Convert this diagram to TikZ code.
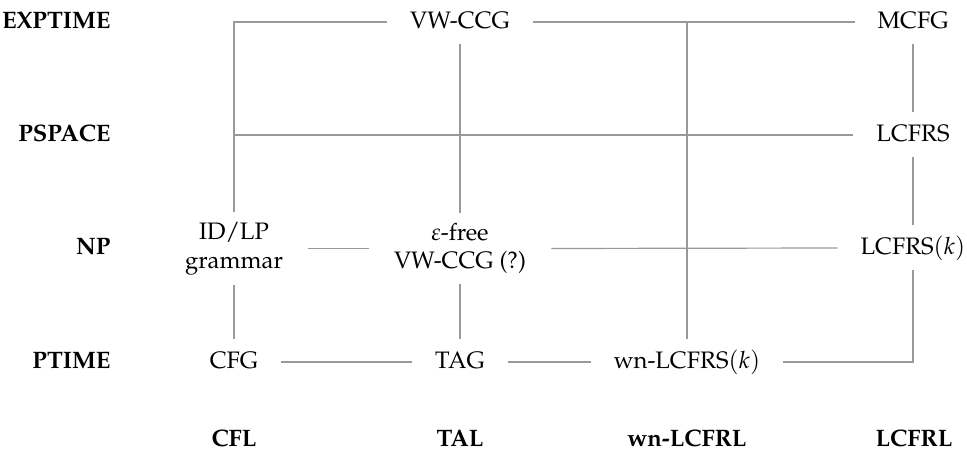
\documentclass[tikz,border=0pt]{standalone}
\usepackage[T1]{fontenc}
\usepackage{mathpazo}
\usetikzlibrary{calc}

\begin{document}
\begin{tikzpicture}[x=0.42pt,y=-0.42pt,
	lang/.style={inner xsep=9.5pt,inner ysep=3pt,text height=8.8pt,text depth=3.7pt},
	twoline/.style={align=center,inner xsep=10.5pt,inner ysep=4pt},
	cls/.style={font=\bfseries,inner sep=0pt,text height=8.8pt,text depth=3.7pt},
	link/.style={draw=black!40,line width=0.5pt}]
	\useasboundingbox (0,0) rectangle (967,450);
	% complexity classes
	\node[cls,anchor=east] (exptime) at (111,22) {EXPTIME};
	\node[cls,anchor=east] (pspace) at (111,135) {PSPACE};
	\node[cls,anchor=east] (np) at (111,248) {NP};
	\node[cls,anchor=east] (ptime) at (111,362) {PTIME};
	% language classes
	\node[cls] (cfl) at (234,440) {CFL};
	\node[cls] (tal) at (460,440) {TAL};
	\node[cls] (wnlcfrl) at (687,440) {wn-LCFRL};
	\node[cls] (lcfrl) at (914,440) {LCFRL};
	% formalisms
	\node[lang] (vwccg) at (460,22) {VW-CCG};
	\node[lang] (mcfg) at (913,22) {MCFG};
	\node[lang] (lcfrs) at (913,135) {LCFRS};
	\node[twoline] (idlp) at (234,248.5) {ID/LP\\grammar};
	\node[twoline] (efree) at (460,248.5) {$\varepsilon$-free\\VW-CCG (?)};
	\node[lang] (lcfrsk) at (913,248) {LCFRS$(k)$};
	\node[lang] (cfg) at (234,362) {CFG};
	\node[lang] (tag) at (460,362) {TAG};
	\node[lang] (wnlcfrs) at (687,362) {wn-LCFRS$(k)$};
	\draw[link] (vwccg.west) -| (idlp.north);
	\draw[link] (vwccg.east) -- (mcfg.west);
	\draw[link] (wnlcfrs.north) -- (wnlcfrs.north |- mcfg.west);
	\draw[link] (lcfrs.west) -- (lcfrs.west -| idlp.north);
	\draw[link] (vwccg.south) -- (efree.north);
	\draw[link] (mcfg.south) -- (lcfrs.north);
	\draw[link] (lcfrs.south) -- (lcfrsk.north);
	\draw[link] (idlp.east) -- (efree.west);
	\draw[link] (efree.east) -- (lcfrsk.west);
	\draw[link] (idlp.south) -- (cfg.north);
	\draw[link] (efree.south) -- (tag.north);
	\draw[link] (cfg.east) -- (tag.west);
	\draw[link] (tag.east) -- (wnlcfrs.west);
	\draw[link] (lcfrsk.south) |- (wnlcfrs.east);
\end{tikzpicture}
\end{document}
